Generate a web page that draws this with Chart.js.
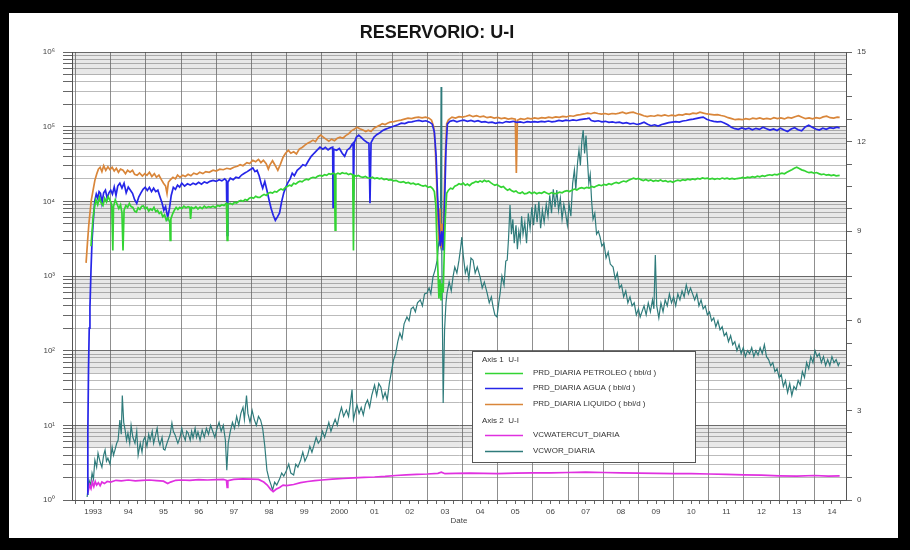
<!DOCTYPE html>
<html>
<head>
<meta charset="utf-8">
<title>RESERVORIO: U-I</title>
<script src="https://cdn.jsdelivr.net/npm/chart.js@4.4.1/dist/chart.umd.min.js"></script>
<style>
  html, body { margin: 0; padding: 0; background: #fff; }
  canvas { display: block; }
</style>
</head>
<body>
<canvas id="c" width="910" height="550" style="width:910px;height:550px"></canvas>
<script>
// ---- labels ----
const chartTitle = 'RESERVORIO: U-I';
const axisGroups = ['Axis 1  U-I', 'Axis 2  U-I'];
const seriesNames = [
  'PRD_DIARIA PETROLEO ( bbl/d )',
  'PRD_DIARIA AGUA ( bbl/d )',
  'PRD_DIARIA LIQUIDO ( bbl/d )',
  'VCWATERCUT_DIARIA',
  'VCWOR_DIARIA'
];
const yearLabels = ['1993','94','95','96','97','98','99','2000','01','02','03','04','05','06','07','08','09','10','11','12','13','14'];
const rightAxisLabels = [0, 3, 6, 9, 12, 15];
const superDigits = ['\u2070','\u00b9','\u00b2','\u00b3','\u2074','\u2075','\u2076'];

// ---- series: [decimal year, value] ----
// daily oil rate, bbl/d (left axis)
const oilRate = [
[1993.44,2500],[1993.47,4000],[1993.5,6000],[1993.54,8500],[1993.58,10500],[1993.63,9000],[1993.68,11300],[1993.73,9500],[1993.78,8800],[1993.83,11000],[1993.88,9800],[1993.93,11500],[1993.98,10300],[1994.03,9000],[1994.06,2200],[1994.08,8500],[1994.13,10500],[1994.18,9200],[1994.23,8000],[1994.28,9000],[1994.32,7000],[1994.35,2200],[1994.38,7600],[1994.43,8800],[1994.48,8300],[1994.53,9400],[1994.58,8500],[1994.63,8300],[1994.68,7400],[1994.73,7200],[1994.78,8200],[1994.83,7800],[1994.88,8600],[1994.93,8700],[1994.98,7900],[1995.03,8300],[1995.08,7400],[1995.13,7900],[1995.18,7600],[1995.23,8300],[1995.28,7300],[1995.33,7600],[1995.38,6900],[1995.43,7200],[1995.48,6200],[1995.53,6600],[1995.58,5560],[1995.63,6000],[1995.68,5200],[1995.69,3000],[1995.71,5800],[1995.76,6800],[1995.81,7600],[1995.86,8300],[1995.91,7800],[1995.96,8300],[1996.02,8000],[1996.08,8600],[1996.14,8200],[1996.2,8500],[1996.25,8300],[1996.27,5800],[1996.3,8300],[1996.36,8000],[1996.42,8500],[1996.48,7900],[1996.54,8400],[1996.6,8000],[1996.66,8600],[1996.72,8200],[1996.78,8500],[1996.84,8300],[1996.91,8600],[1996.97,8300],[1997.04,8800],[1997.1,8600],[1997.16,9000],[1997.22,8800],[1997.29,9400],[1997.31,3000],[1997.33,9200],[1997.4,9400],[1997.46,9100],[1997.52,9700],[1997.58,9500],[1997.64,10000],[1997.7,10300],[1997.76,10000],[1997.82,10600],[1997.88,10300],[1997.94,11000],[1998.0,11300],[1998.06,11000],[1998.12,11700],[1998.18,11300],[1998.24,11300],[1998.3,11900],[1998.36,12400],[1998.42,12000],[1998.48,12800],[1998.54,13200],[1998.6,12900],[1998.66,13600],[1998.72,13300],[1998.78,14100],[1998.84,14600],[1998.9,14200],[1998.96,15200],[1999.02,15800],[1999.08,16500],[1999.14,16100],[1999.2,17500],[1999.26,17000],[1999.32,18000],[1999.38,18600],[1999.44,18200],[1999.5,19200],[1999.56,19800],[1999.62,19400],[1999.68,20400],[1999.75,21000],[1999.82,20600],[1999.88,21600],[1999.95,22300],[2000.02,21800],[2000.08,22800],[2000.14,22300],[2000.2,23500],[2000.26,23000],[2000.32,23800],[2000.36,23400],[2000.38,4100],[2000.4,23000],[2000.46,23800],[2000.52,23200],[2000.58,24200],[2000.64,23600],[2000.7,23800],[2000.76,22800],[2000.82,23400],[2000.88,22600],[2000.9,2200],[2000.92,22300],[2000.98,21600],[2001.04,22200],[2001.1,21300],[2001.17,21000],[2001.24,21500],[2001.3,20700],[2001.37,20400],[2001.44,21000],[2001.5,20200],[2001.57,20600],[2001.64,20000],[2001.7,20400],[2001.77,19600],[2001.84,20000],[2001.9,19200],[2001.97,19500],[2002.04,18800],[2002.11,19100],[2002.18,18300],[2002.25,18000],[2002.32,18400],[2002.39,17600],[2002.46,17900],[2002.53,17200],[2002.6,17500],[2002.67,16800],[2002.74,17100],[2002.81,16400],[2002.88,16000],[2002.95,16300],[2003.02,15400],[2003.09,15700],[2003.15,14800],[2003.2,13500],[2003.24,9000],[2003.27,3000],[2003.3,1200],[2003.33,500],[2003.36,900],[2003.39,470],[2003.42,800],[2003.45,600],[2003.48,2000],[2003.51,6000],[2003.55,12800],[2003.6,14100],[2003.66,15000],[2003.72,14600],[2003.78,16000],[2003.84,16400],[2003.9,17200],[2003.96,16800],[2004.02,17500],[2004.08,16400],[2004.14,17000],[2004.2,16200],[2004.26,17300],[2004.32,17800],[2004.38,18500],[2004.44,18000],[2004.5,18800],[2004.56,18200],[2004.62,19100],[2004.68,18400],[2004.74,18800],[2004.8,17800],[2004.86,17000],[2004.92,16400],[2004.98,16800],[2005.04,16000],[2005.1,15400],[2005.16,15800],[2005.22,14800],[2005.28,14100],[2005.34,14600],[2005.4,13800],[2005.46,13400],[2005.52,13800],[2005.58,13000],[2005.64,12800],[2005.7,13300],[2005.76,12600],[2005.83,12800],[2005.9,13300],[2005.97,12700],[2006.04,13200],[2006.11,12600],[2006.18,13100],[2006.25,12800],[2006.32,13400],[2006.39,12900],[2006.46,12500],[2006.53,13100],[2006.6,12700],[2006.69,12800],[2006.76,13300],[2006.83,13000],[2006.9,13600],[2006.97,13900],[2007.04,13500],[2007.11,14100],[2007.18,14600],[2007.25,14200],[2007.32,14900],[2007.39,15200],[2007.46,14800],[2007.53,15400],[2007.6,15100],[2007.67,15800],[2007.74,15400],[2007.81,16100],[2007.88,16600],[2007.95,16200],[2008.02,16900],[2008.09,16500],[2008.16,17200],[2008.23,16800],[2008.3,17500],[2008.37,17900],[2008.44,17400],[2008.51,18200],[2008.58,18700],[2008.65,18300],[2008.72,19200],[2008.79,19800],[2008.86,20400],[2008.93,19900],[2009.0,20300],[2009.07,19500],[2009.14,19000],[2009.21,19600],[2009.28,18800],[2009.35,19400],[2009.42,18600],[2009.49,19100],[2009.56,18700],[2009.63,19300],[2009.7,18500],[2009.77,18900],[2009.84,18200],[2009.91,18600],[2009.98,18000],[2010.05,18700],[2010.12,19200],[2010.19,18800],[2010.26,19500],[2010.33,19100],[2010.4,19800],[2010.47,19400],[2010.54,20000],[2010.61,19600],[2010.68,20300],[2010.75,19900],[2010.82,20600],[2010.89,20200],[2010.96,20400],[2011.03,19800],[2011.1,20300],[2011.17,19700],[2011.24,20200],[2011.31,19800],[2011.38,20500],[2011.45,20000],[2011.52,20400],[2011.59,19900],[2011.66,20300],[2011.73,19800],[2011.8,20200],[2011.89,20400],[2011.96,20900],[2012.03,20500],[2012.1,21100],[2012.17,20800],[2012.24,21400],[2012.31,21000],[2012.38,21700],[2012.45,21300],[2012.52,22000],[2012.59,21600],[2012.66,22300],[2012.73,22700],[2012.8,22300],[2012.87,23000],[2012.94,22600],[2013.01,23300],[2013.08,23800],[2013.15,23400],[2013.22,24500],[2013.29,25500],[2013.36,26500],[2013.43,27700],[2013.5,28600],[2013.57,27500],[2013.64,26400],[2013.71,25800],[2013.78,24900],[2013.85,24200],[2013.92,24600],[2013.99,23800],[2014.06,24300],[2014.13,23500],[2014.2,22800],[2014.27,23200],[2014.34,22400],[2014.41,22800],[2014.48,22100],[2014.55,22600],[2014.62,22000],[2014.72,22300]
];

// daily water rate, bbl/d (left axis)
const waterRate = [
[1993.33,1.2],[1993.35,8],[1993.37,60],[1993.39,200],[1993.41,380],[1993.44,1200],[1993.47,3000],[1993.51,6000],[1993.55,10300],[1993.59,12500],[1993.63,11000],[1993.67,13500],[1993.71,12800],[1993.75,9500],[1993.8,13000],[1993.85,14100],[1993.9,11000],[1993.95,13000],[1994.0,14100],[1994.05,12500],[1994.1,15500],[1994.15,12000],[1994.2,16000],[1994.26,17500],[1994.32,15000],[1994.38,17500],[1994.44,13000],[1994.5,15500],[1994.56,14100],[1994.62,12800],[1994.68,10500],[1994.74,9400],[1994.8,11500],[1994.86,13000],[1994.92,14500],[1994.98,15400],[1995.04,14000],[1995.1,15400],[1995.16,13500],[1995.22,15000],[1995.28,13500],[1995.34,14100],[1995.4,11500],[1995.46,9500],[1995.51,7600],[1995.56,8500],[1995.62,6100],[1995.67,8000],[1995.72,12000],[1995.78,15400],[1995.84,14500],[1995.9,16500],[1995.96,15500],[1996.02,17500],[1996.1,16000],[1996.18,17200],[1996.26,16500],[1996.34,17500],[1996.42,16800],[1996.5,18000],[1996.58,17000],[1996.66,18200],[1996.74,17600],[1996.82,18500],[1996.91,19100],[1997.0,18500],[1997.08,19500],[1997.16,18800],[1997.24,20000],[1997.29,19000],[1997.31,3500],[1997.33,18000],[1997.4,20400],[1997.48,19500],[1997.56,21000],[1997.64,20500],[1997.72,22500],[1997.8,23800],[1997.88,25000],[1997.96,26500],[1998.04,28000],[1998.1,25000],[1998.16,26000],[1998.22,22000],[1998.28,17000],[1998.32,15000],[1998.38,18500],[1998.44,14100],[1998.5,10500],[1998.56,8000],[1998.62,6500],[1998.68,5560],[1998.74,6200],[1998.8,7000],[1998.86,10000],[1998.92,13000],[1998.98,15500],[1999.04,18000],[1999.1,20000],[1999.16,23800],[1999.22,22000],[1999.3,26000],[1999.38,28000],[1999.46,31000],[1999.54,30000],[1999.62,35000],[1999.7,40000],[1999.78,44000],[1999.86,48000],[1999.95,53100],[2000.03,50000],[2000.1,53000],[2000.18,49000],[2000.26,52000],[2000.31,53100],[2000.32,8300],[2000.34,50000],[2000.42,48400],[2000.5,51000],[2000.58,44000],[2000.65,40000],[2000.72,48400],[2000.8,52000],[2000.86,58000],[2000.89,60100],[2000.9,10300],[2000.92,60000],[2000.98,72000],[2001.05,76900],[2001.12,72000],[2001.2,66000],[2001.28,62000],[2001.34,60100],[2001.37,9400],[2001.4,61000],[2001.48,72000],[2001.56,78000],[2001.64,82000],[2001.72,88000],[2001.8,92000],[2001.88,95000],[2001.96,98400],[2002.06,102000],[2002.16,106000],[2002.26,111400],[2002.36,110000],[2002.46,114900],[2002.56,116000],[2002.66,119000],[2002.76,121000],[2002.86,118000],[2002.96,120000],[2003.06,115000],[2003.14,108000],[2003.2,85000],[2003.25,40000],[2003.29,12000],[2003.33,5000],[2003.37,2500],[2003.41,4000],[2003.45,2200],[2003.49,9000],[2003.53,50000],[2003.57,108000],[2003.64,118000],[2003.74,121000],[2003.84,116000],[2003.94,120000],[2004.04,122300],[2004.14,118000],[2004.24,121000],[2004.34,117000],[2004.44,120000],[2004.54,115000],[2004.64,117000],[2004.74,113000],[2004.84,115000],[2004.94,111000],[2005.04,114000],[2005.14,112000],[2005.24,117000],[2005.34,115000],[2005.44,118000],[2005.54,114000],[2005.64,116000],[2005.74,113000],[2005.84,117000],[2005.94,114900],[2006.04,117000],[2006.14,115000],[2006.24,118000],[2006.34,116000],[2006.44,119000],[2006.54,116000],[2006.64,118000],[2006.74,121000],[2006.84,119000],[2006.94,122300],[2007.04,120000],[2007.14,123000],[2007.24,121000],[2007.34,124000],[2007.44,126000],[2007.54,128000],[2007.6,130000],[2007.66,121000],[2007.76,118000],[2007.86,120000],[2007.96,116000],[2008.06,118000],[2008.16,114000],[2008.26,116000],[2008.36,113000],[2008.46,114900],[2008.56,111000],[2008.66,113000],[2008.76,109000],[2008.86,111000],[2008.96,107000],[2009.06,110000],[2009.16,114900],[2009.26,108000],[2009.36,103000],[2009.46,106000],[2009.56,102000],[2009.66,107000],[2009.76,110000],[2009.86,113000],[2009.96,114900],[2010.06,117000],[2010.16,115000],[2010.26,119000],[2010.36,121000],[2010.46,124000],[2010.56,126000],[2010.66,129000],[2010.76,132000],[2010.84,134200],[2010.94,126000],[2011.04,121000],[2011.14,118000],[2011.24,116000],[2011.34,117000],[2011.44,112000],[2011.54,106000],[2011.64,98400],[2011.74,94000],[2011.84,92000],[2011.94,96000],[2012.04,93000],[2012.14,95500],[2012.24,91000],[2012.34,95000],[2012.44,92000],[2012.54,98400],[2012.64,94000],[2012.74,90000],[2012.84,93000],[2012.94,89000],[2013.04,95500],[2013.14,90000],[2013.24,86000],[2013.34,93000],[2013.44,97000],[2013.54,91000],[2013.64,88000],[2013.74,99000],[2013.84,104700],[2013.94,98400],[2014.04,93000],[2014.14,90000],[2014.24,95500],[2014.34,92000],[2014.44,97000],[2014.54,95000],[2014.64,98400],[2014.72,96000]
];

// daily liquid rate, bbl/d (left axis)
const liquidRate = [
[1993.30,1500],[1993.34,2800],[1993.38,5000],[1993.41,6900],[1993.45,10500],[1993.5,14100],[1993.55,19100],[1993.6,23000],[1993.65,27000],[1993.7,28600],[1993.75,25000],[1993.8,30000],[1993.86,26000],[1993.92,29000],[1993.98,26500],[1994.04,28600],[1994.1,25500],[1994.16,27700],[1994.22,24500],[1994.28,27000],[1994.35,26100],[1994.42,23500],[1994.48,26100],[1994.55,24500],[1994.62,26000],[1994.68,23000],[1994.75,22300],[1994.82,24000],[1994.9,21800],[1994.97,23500],[1995.03,22300],[1995.1,24500],[1995.17,21500],[1995.24,23500],[1995.3,21000],[1995.37,22500],[1995.44,19500],[1995.5,17500],[1995.56,16000],[1995.6,12800],[1995.64,18000],[1995.7,19500],[1995.77,21000],[1995.84,20000],[1995.9,22500],[1995.97,21000],[1996.05,22300],[1996.12,21500],[1996.2,23000],[1996.28,22000],[1996.36,23800],[1996.45,23000],[1996.53,24500],[1996.62,23500],[1996.7,25000],[1996.8,24500],[1996.91,26100],[1997.0,25500],[1997.1,27000],[1997.2,26500],[1997.3,27700],[1997.4,27000],[1997.5,28600],[1997.6,29500],[1997.68,31000],[1997.76,30000],[1997.87,33000],[1997.95,32000],[1998.04,35500],[1998.12,34000],[1998.2,36500],[1998.27,33000],[1998.34,35500],[1998.42,32000],[1998.48,27000],[1998.53,31000],[1998.6,35000],[1998.68,30000],[1998.75,26000],[1998.82,31000],[1998.9,39000],[1998.97,44000],[1999.05,48400],[1999.12,44000],[1999.2,46000],[1999.28,43000],[1999.36,50000],[1999.45,53100],[1999.52,56500],[1999.6,60100],[1999.68,63000],[1999.75,66000],[1999.82,63000],[1999.9,72300],[1999.97,76900],[2000.05,72000],[2000.12,68000],[2000.2,64000],[2000.28,68000],[2000.36,65000],[2000.44,70000],[2000.52,72300],[2000.6,70000],[2000.68,76000],[2000.76,80000],[2000.84,88000],[2000.92,92000],[2001.0,98400],[2001.08,94000],[2001.17,90000],[2001.25,86000],[2001.32,89800],[2001.4,86000],[2001.48,95000],[2001.56,100000],[2001.64,104000],[2001.72,110000],[2001.8,107000],[2001.88,112000],[2001.94,114900],[2002.05,117000],[2002.15,120000],[2002.25,122300],[2002.35,126000],[2002.45,130000],[2002.55,128000],[2002.65,132000],[2002.75,134200],[2002.85,131000],[2002.95,134200],[2003.05,130000],[2003.12,122000],[2003.18,100000],[2003.22,60000],[2003.26,20000],[2003.3,6000],[2003.33,3000],[2003.36,8000],[2003.39,2400],[2003.42,5000],[2003.45,3500],[2003.48,12000],[2003.51,40000],[2003.55,110000],[2003.6,124000],[2003.7,134200],[2003.8,130000],[2003.9,136000],[2004.0,134000],[2004.1,138000],[2004.2,142600],[2004.3,136000],[2004.4,140000],[2004.5,135000],[2004.6,138000],[2004.7,132000],[2004.8,135000],[2004.9,130000],[2005.0,133000],[2005.1,128000],[2005.2,131000],[2005.3,126000],[2005.4,129000],[2005.5,126000],[2005.53,24000],[2005.56,122000],[2005.65,128000],[2005.75,125000],[2005.85,130000],[2005.95,127000],[2006.05,131000],[2006.15,128000],[2006.25,132000],[2006.35,130000],[2006.45,134200],[2006.55,131000],[2006.65,135000],[2006.75,133000],[2006.85,137000],[2006.95,135000],[2007.05,140000],[2007.15,138000],[2007.25,142600],[2007.35,145000],[2007.45,148000],[2007.55,152000],[2007.65,149000],[2007.75,154000],[2007.85,150000],[2007.95,147000],[2008.05,150000],[2008.15,146000],[2008.25,150000],[2008.35,148000],[2008.45,152000],[2008.55,156700],[2008.65,150000],[2008.75,154000],[2008.85,156700],[2008.95,150000],[2009.05,146000],[2009.15,140000],[2009.25,136000],[2009.35,140000],[2009.45,138000],[2009.55,143000],[2009.65,140000],[2009.75,144000],[2009.85,139000],[2009.95,142600],[2010.05,140000],[2010.15,145000],[2010.25,143000],[2010.35,148000],[2010.45,146000],[2010.55,152000],[2010.65,150000],[2010.75,156700],[2010.85,152000],[2010.95,148000],[2011.05,146000],[2011.15,144000],[2011.25,145000],[2011.35,141000],[2011.45,138000],[2011.55,132000],[2011.65,128000],[2011.75,124000],[2011.85,126000],[2011.95,124000],[2012.05,128000],[2012.15,125000],[2012.25,130000],[2012.35,127000],[2012.45,131000],[2012.55,126000],[2012.65,129000],[2012.75,126000],[2012.85,132000],[2012.95,128000],[2013.05,131000],[2013.15,127000],[2013.25,133000],[2013.35,130000],[2013.45,136000],[2013.55,140000],[2013.65,134000],[2013.75,128000],[2013.85,131000],[2013.95,127000],[2014.05,132000],[2014.15,129000],[2014.25,135000],[2014.35,138000],[2014.45,132000],[2014.55,130000],[2014.65,134000],[2014.72,133000]
];

// daily water cut (right axis)
const waterCut = [
[1993.35,0.25],[1993.4,0.5],[1993.44,0.38],[1993.48,0.6],[1993.52,0.45],[1993.56,0.62],[1993.6,0.5],[1993.65,0.58],[1993.7,0.48],[1993.75,0.6],[1993.82,0.55],[1993.9,0.62],[1994.0,0.6],[1994.15,0.66],[1994.3,0.64],[1994.5,0.67],[1994.7,0.64],[1994.9,0.66],[1995.1,0.67],[1995.3,0.65],[1995.5,0.63],[1995.62,0.55],[1995.7,0.6],[1995.85,0.66],[1996.0,0.67],[1996.25,0.66],[1996.5,0.68],[1996.75,0.67],[1997.0,0.68],[1997.2,0.69],[1997.29,0.66],[1997.31,0.42],[1997.33,0.65],[1997.5,0.69],[1997.75,0.71],[1998.0,0.7],[1998.2,0.69],[1998.35,0.6],[1998.45,0.5],[1998.55,0.35],[1998.62,0.28],[1998.7,0.36],[1998.8,0.42],[1998.9,0.5],[1999.0,0.48],[1999.2,0.52],[1999.4,0.58],[1999.6,0.62],[1999.8,0.65],[2000.0,0.67],[2000.3,0.7],[2000.6,0.72],[2000.9,0.74],[2001.2,0.76],[2001.5,0.77],[2001.8,0.79],[2002.1,0.82],[2002.4,0.84],[2002.7,0.86],[2003.0,0.87],[2003.3,0.89],[2003.4,0.93],[2003.5,0.88],[2003.8,0.89],[2004.2,0.9],[2004.6,0.89],[2005.0,0.88],[2005.5,0.9],[2006.0,0.91],[2006.5,0.91],[2007.0,0.92],[2007.5,0.93],[2008.0,0.92],[2008.5,0.91],[2009.0,0.9],[2009.5,0.89],[2010.0,0.88],[2010.5,0.88],[2011.0,0.87],[2011.5,0.86],[2012.0,0.84],[2012.5,0.83],[2013.0,0.81],[2013.5,0.8],[2014.0,0.82],[2014.4,0.8],[2014.72,0.81]
];

// daily water/oil ratio (right axis)
const worRatio = [
[1993.33,0.1],[1993.38,0.67],[1993.43,0.5],[1993.47,0.9],[1993.51,0.7],[1993.55,1.34],[1993.6,1.1],[1993.64,1.57],[1993.7,1.27],[1993.75,1.1],[1993.8,1.5],[1993.84,1.67],[1993.88,1.3],[1993.92,1.4],[1993.98,1.2],[1994.04,1.77],[1994.08,1.5],[1994.12,1.67],[1994.17,1.9],[1994.21,2.0],[1994.26,2.68],[1994.3,2.2],[1994.33,3.5],[1994.37,2.6],[1994.41,2.34],[1994.45,2.0],[1994.49,2.24],[1994.54,1.9],[1994.58,2.5],[1994.63,2.1],[1994.69,1.9],[1994.74,2.3],[1994.78,1.5],[1994.84,1.9],[1994.89,1.6],[1994.93,2.0],[1994.97,2.1],[1995.03,1.8],[1995.08,2.2],[1995.12,2.0],[1995.18,2.3],[1995.22,1.9],[1995.26,2.1],[1995.32,2.4],[1995.36,2.0],[1995.4,1.84],[1995.46,2.1],[1995.5,1.7],[1995.54,1.67],[1995.6,1.9],[1995.63,2.0],[1995.69,2.2],[1995.74,2.58],[1995.78,2.3],[1995.83,2.18],[1995.88,2.0],[1995.91,1.9],[1995.97,2.1],[1996.02,2.4],[1996.06,2.18],[1996.12,2.0],[1996.16,2.3],[1996.2,2.24],[1996.26,2.0],[1996.3,2.3],[1996.34,2.08],[1996.4,2.4],[1996.44,2.1],[1996.48,2.28],[1996.54,2.0],[1996.6,2.34],[1996.66,2.1],[1996.72,2.4],[1996.78,2.2],[1996.84,2.5],[1996.9,2.3],[1996.96,2.1],[1997.02,2.4],[1997.08,2.6],[1997.14,2.3],[1997.2,2.5],[1997.26,2.0],[1997.3,1.0],[1997.34,1.9],[1997.4,2.3],[1997.46,2.6],[1997.52,2.4],[1997.58,2.8],[1997.64,2.5],[1997.7,2.9],[1997.76,3.1],[1997.8,2.7],[1997.86,3.5],[1997.9,2.9],[1997.96,2.6],[1998.02,3.0],[1998.08,2.7],[1998.14,2.5],[1998.2,2.8],[1998.26,2.68],[1998.32,2.4],[1998.38,1.8],[1998.44,1.0],[1998.5,0.7],[1998.56,0.5],[1998.6,0.33],[1998.66,0.6],[1998.72,0.5],[1998.8,0.7],[1998.86,0.9],[1998.92,0.8],[1999.0,1.0],[1999.06,1.2],[1999.12,0.9],[1999.2,0.84],[1999.26,1.2],[1999.32,1.1],[1999.4,1.34],[1999.46,1.6],[1999.52,1.3],[1999.6,1.51],[1999.66,1.8],[1999.72,1.6],[1999.78,1.84],[1999.84,2.1],[1999.9,1.9],[1999.96,2.01],[2000.02,2.3],[2000.08,2.1],[2000.14,2.34],[2000.2,2.6],[2000.26,2.3],[2000.32,2.51],[2000.38,2.7],[2000.44,2.5],[2000.5,2.85],[2000.56,3.1],[2000.62,2.8],[2000.7,3.01],[2000.76,2.8],[2000.82,3.3],[2000.86,3.7],[2000.9,2.7],[2000.96,3.0],[2001.0,3.18],[2001.06,2.9],[2001.12,3.1],[2001.18,2.85],[2001.24,3.2],[2001.3,3.35],[2001.36,3.1],[2001.42,3.5],[2001.5,3.85],[2001.56,3.5],[2001.62,3.9],[2001.68,3.78],[2001.74,3.4],[2001.8,3.6],[2001.86,3.35],[2001.92,3.9],[2001.98,4.3],[2002.04,4.69],[2002.1,4.9],[2002.16,5.3],[2002.22,5.59],[2002.28,5.4],[2002.34,5.9],[2002.42,6.13],[2002.48,6.0],[2002.54,6.4],[2002.6,6.46],[2002.66,6.3],[2002.72,6.6],[2002.8,6.7],[2002.86,6.5],[2002.92,6.9],[2002.99,6.93],[2003.05,7.1],[2003.1,6.9],[2003.16,7.47],[2003.22,7.7],[2003.28,8.03],[2003.33,8.7],[2003.37,8.5],[2003.39,13.83],[2003.41,8.37],[2003.45,3.25],[2003.49,5.69],[2003.53,6.6],[2003.56,6.93],[2003.62,7.3],[2003.68,7.0],[2003.73,7.47],[2003.78,7.8],[2003.84,7.6],[2003.9,8.03],[2003.95,8.47],[2003.98,8.8],[2004.02,8.2],[2004.08,7.6],[2004.13,7.8],[2004.18,7.4],[2004.24,8.1],[2004.3,8.03],[2004.36,7.6],[2004.42,7.8],[2004.5,7.47],[2004.56,7.1],[2004.62,7.3],[2004.7,6.93],[2004.76,6.6],[2004.82,6.8],[2004.87,6.46],[2004.92,6.2],[2004.98,6.13],[2005.03,6.6],[2005.07,6.93],[2005.12,7.5],[2005.18,7.2],[2005.23,8.0],[2005.27,8.03],[2005.31,8.8],[2005.35,9.88],[2005.39,8.9],[2005.43,9.4],[2005.47,8.6],[2005.52,9.2],[2005.56,8.4],[2005.6,9.0],[2005.64,8.7],[2005.68,9.5],[2005.72,8.9],[2005.77,9.3],[2005.82,8.6],[2005.87,9.6],[2005.92,9.1],[2005.97,9.8],[2006.02,9.2],[2006.07,9.9],[2006.12,9.3],[2006.17,10.0],[2006.22,9.1],[2006.27,9.7],[2006.32,9.3],[2006.38,9.9],[2006.43,9.5],[2006.48,10.2],[2006.53,9.6],[2006.58,10.4],[2006.63,9.8],[2006.68,10.38],[2006.73,9.7],[2006.78,10.1],[2006.83,9.4],[2006.88,9.9],[2006.93,9.6],[2006.98,9.2],[2007.03,9.9],[2007.08,9.5],[2007.13,10.6],[2007.18,11.05],[2007.22,10.4],[2007.27,11.3],[2007.31,11.72],[2007.35,11.2],[2007.39,12.0],[2007.43,12.39],[2007.47,11.6],[2007.51,12.2],[2007.55,11.4],[2007.59,10.6],[2007.63,10.9],[2007.67,10.0],[2007.71,9.4],[2007.76,9.6],[2007.81,8.9],[2007.86,9.0],[2007.91,8.8],[2007.96,8.5],[2008.02,8.6],[2008.08,8.1],[2008.14,8.3],[2008.2,7.9],[2008.28,7.8],[2008.34,7.4],[2008.4,7.6],[2008.46,7.1],[2008.52,7.2],[2008.58,6.8],[2008.64,7.0],[2008.7,6.6],[2008.76,6.8],[2008.82,6.5],[2008.88,6.6],[2008.94,6.2],[2009.0,6.4],[2009.05,6.13],[2009.1,6.3],[2009.16,6.5],[2009.22,6.2],[2009.28,6.6],[2009.34,6.3],[2009.4,6.7],[2009.44,6.4],[2009.48,8.2],[2009.52,6.5],[2009.58,6.1],[2009.64,6.6],[2009.7,6.3],[2009.76,6.7],[2009.82,6.5],[2009.88,6.9],[2009.94,6.6],[2010.0,6.8],[2010.06,6.5],[2010.12,6.9],[2010.18,6.7],[2010.24,7.0],[2010.3,6.8],[2010.36,7.2],[2010.42,6.9],[2010.48,7.1],[2010.54,6.9],[2010.6,6.7],[2010.66,6.9],[2010.72,6.5],[2010.78,6.7],[2010.84,6.4],[2010.9,6.5],[2010.96,6.2],[2011.02,6.3],[2011.08,6.0],[2011.14,6.1],[2011.2,5.8],[2011.26,6.0],[2011.32,5.7],[2011.38,5.8],[2011.44,5.5],[2011.5,5.6],[2011.56,5.3],[2011.62,5.5],[2011.68,5.2],[2011.74,5.3],[2011.8,5.0],[2011.86,5.2],[2011.92,4.9],[2011.98,5.1],[2012.04,4.8],[2012.1,5.0],[2012.16,4.9],[2012.22,5.1],[2012.28,4.8],[2012.34,5.0],[2012.4,4.85],[2012.46,5.1],[2012.52,4.9],[2012.58,5.2],[2012.64,4.8],[2012.7,4.7],[2012.76,4.5],[2012.82,4.6],[2012.88,4.3],[2012.94,4.4],[2013.0,4.1],[2013.06,4.2],[2013.12,3.8],[2013.18,4.0],[2013.24,3.6],[2013.3,3.9],[2013.36,3.5],[2013.42,3.8],[2013.48,3.7],[2013.54,4.0],[2013.6,3.85],[2013.66,4.3],[2013.72,4.1],[2013.78,4.6],[2013.84,4.4],[2013.9,4.8],[2013.96,4.6],[2014.02,5.0],[2014.08,4.8],[2014.14,4.9],[2014.2,4.6],[2014.26,4.8],[2014.32,4.5],[2014.38,4.7],[2014.44,4.5],[2014.5,4.8],[2014.56,4.6],[2014.62,4.7],[2014.68,4.5],[2014.72,4.6]
];

const toPoints = rows => rows.map(([x, y]) => ({ x, y }));

// log-axis tick values: 1..9 in every decade, 1 to 10^6
const logTickValues = [];
for (let e = 0; e < 6; e++) for (let m = 1; m <= 9; m++) logTickValues.push(m * Math.pow(10, e));
logTickValues.push(1e6);

const isDecade = v => {
  const e = Math.round(Math.log10(v));
  return Math.abs(v - Math.pow(10, e)) < 1e-9 * v;
};

const FONT = '"Liberation Sans", Arial, sans-serif';

// white page with a black frame, title and axis caption
const framePlugin = {
  id: 'frame',
  beforeDraw(chart) {
    const ctx = chart.ctx;
    ctx.save();
    ctx.fillStyle = '#000';
    ctx.fillRect(0, 0, 910, 550);
    ctx.fillStyle = '#fff';
    ctx.fillRect(9, 13, 889, 525);
    ctx.restore();
  },
  afterDraw(chart) {
    const ctx = chart.ctx;
    ctx.save();
    ctx.fillStyle = '#151515';
    ctx.font = 'bold 18px ' + FONT;
    ctx.textAlign = 'center';
    ctx.textBaseline = 'alphabetic';
    ctx.fillText(chartTitle, 437, 38);
    ctx.font = '8px ' + FONT;
    ctx.fillStyle = '#444';
    ctx.textBaseline = 'middle';
    const a = chart.chartArea;
    ctx.fillText('Date', (a.left + a.right) / 2, 521);
    ctx.restore();
  }
};

// light shading of the upper half of each decade on the log axis
const bandPlugin = {
  id: 'bands',
  beforeDatasetsDraw(chart) {
    const ctx = chart.ctx, a = chart.chartArea, ys = chart.scales.y;
    ctx.save();
    ctx.fillStyle = 'rgba(0,0,0,0.09)';
    for (let n = 1; n <= 6; n++) {
      const top = ys.getPixelForValue(Math.pow(10, n));
      const bot = ys.getPixelForValue(5 * Math.pow(10, n - 1));
      ctx.fillRect(a.left, top, a.right - a.left, bot - top);
    }
    ctx.restore();
  }
};

// grouped legend box (Axis 1 / Axis 2)
const legendPlugin = {
  id: 'groupLegend',
  afterDatasetsDraw(chart) {
    const ctx = chart.ctx;
    const x = 472, y = 351, w = 223, h = 111;
    ctx.save();
    ctx.fillStyle = '#fff';
    ctx.fillRect(x, y, w, h);
    ctx.strokeStyle = '#555';
    ctx.lineWidth = 1;
    ctx.strokeRect(x + 0.5, y + 0.5, w, h);
    ctx.font = '8px ' + FONT;
    ctx.textBaseline = 'middle';
    ctx.textAlign = 'left';
    const rows = [
      { head: axisGroups[0], y: 360 },
      { ds: 0, y: 373 },
      { ds: 1, y: 388 },
      { ds: 2, y: 404 },
      { head: axisGroups[1], y: 421 },
      { ds: 3, y: 435 },
      { ds: 4, y: 451 }
    ];
    rows.forEach(r => {
      if (r.head) {
        ctx.fillStyle = '#333';
        ctx.fillText(r.head, 482, r.y);
      } else {
        const d = chart.data.datasets[r.ds];
        ctx.strokeStyle = d.borderColor;
        ctx.lineWidth = 1.5;
        ctx.beginPath();
        ctx.moveTo(485, r.y + 0.5);
        ctx.lineTo(523, r.y + 0.5);
        ctx.stroke();
        ctx.fillStyle = '#333';
        ctx.fillText(d.label, 533, r.y);
      }
    });
    ctx.restore();
  }
};

const tickFont = { family: FONT, size: 8 };

new Chart(document.getElementById('c'), {
  type: 'line',
  data: {
    datasets: [
      { label: seriesNames[0], data: toPoints(oilRate), borderColor: '#33d433', yAxisID: 'y' },
      { label: seriesNames[1], data: toPoints(waterRate), borderColor: '#2626e8', yAxisID: 'y' },
      { label: seriesNames[2], data: toPoints(liquidRate), borderColor: '#d9863a', yAxisID: 'y' },
      { label: seriesNames[3], data: toPoints(waterCut), borderColor: '#e030e0', yAxisID: 'y2' },
      { label: seriesNames[4], data: toPoints(worRatio), borderColor: '#2f7b7b', yAxisID: 'y2', borderWidth: 1.2 }
    ]
  },
  options: {
    responsive: false,
    devicePixelRatio: 1,
    animation: false,
    layout: { padding: { top: 52, left: 0, right: 0, bottom: 0 } },
    elements: {
      point: { radius: 0, hoverRadius: 0 },
      line: { borderWidth: 1.7, tension: 0 }
    },
    plugins: {
      legend: { display: false },
      title: { display: false },
      tooltip: { enabled: false }
    },
    scales: {
      x: {
        type: 'linear',
        min: 1992.9,
        max: 2014.9,
        afterBuildTicks(s) {
          const t = [];
          for (let q = 1993 * 4; q <= 2014.75 * 4; q++) t.push({ value: q / 4 });
          s.ticks = t;
        },
        afterFit(s) { s.height = 50; },
        ticks: {
          autoSkip: false, maxRotation: 0, minRotation: 0, padding: 3,
          color: '#444', font: tickFont,
          callback(v) {
            const yr = Math.floor(v + 1e-9);
            if (Math.abs(v - yr - 0.5) < 1e-6) return yearLabels[yr - 1993] || '';
            return '';
          }
        },
        grid: {
          color(c) {
            const v = c.tick ? c.tick.value : 0;
            return Math.abs(v - Math.round(v)) < 1e-6 ? 'rgba(95,95,95,0.7)' : 'rgba(0,0,0,0)';
          },
          tickColor: '#666', tickLength: 4, lineWidth: 1
        },
        border: { color: '#555' }
      },
      y: {
        type: 'logarithmic',
        position: 'left',
        min: 1,
        max: 1e6,
        afterBuildTicks(s) { s.ticks = logTickValues.map(v => ({ value: v })); },
        afterFit(s) { s.width = 72; },
        ticks: {
          autoSkip: false, padding: 8, color: '#444', font: tickFont,
          callback(v) {
            return isDecade(v) ? '10' + superDigits[Math.round(Math.log10(v))] : '';
          }
        },
        grid: {
          color(c) {
            const v = c.tick ? c.tick.value : 1;
            return isDecade(v) ? 'rgba(80,80,80,0.8)' : 'rgba(120,120,120,0.5)';
          },
          tickColor: '#666', tickLength: 9, lineWidth: 1
        },
        border: { color: '#555' }
      },
      y2: {
        type: 'linear',
        position: 'right',
        min: 0,
        max: 15,
        afterBuildTicks(s) {
          const t = [];
          for (let i = 0; i <= 20; i++) t.push({ value: i * 0.75 });
          s.ticks = t;
        },
        afterFit(s) { s.width = 64; },
        ticks: {
          autoSkip: false, padding: 5, color: '#444', font: tickFont,
          callback(v) { return rightAxisLabels.includes(v) ? String(v) : ''; }
        },
        grid: { drawOnChartArea: false, tickColor: '#666', tickLength: 6 },
        border: { color: '#555' }
      }
    }
  },
  plugins: [framePlugin, bandPlugin, legendPlugin]
});
</script>
</body>
</html>
